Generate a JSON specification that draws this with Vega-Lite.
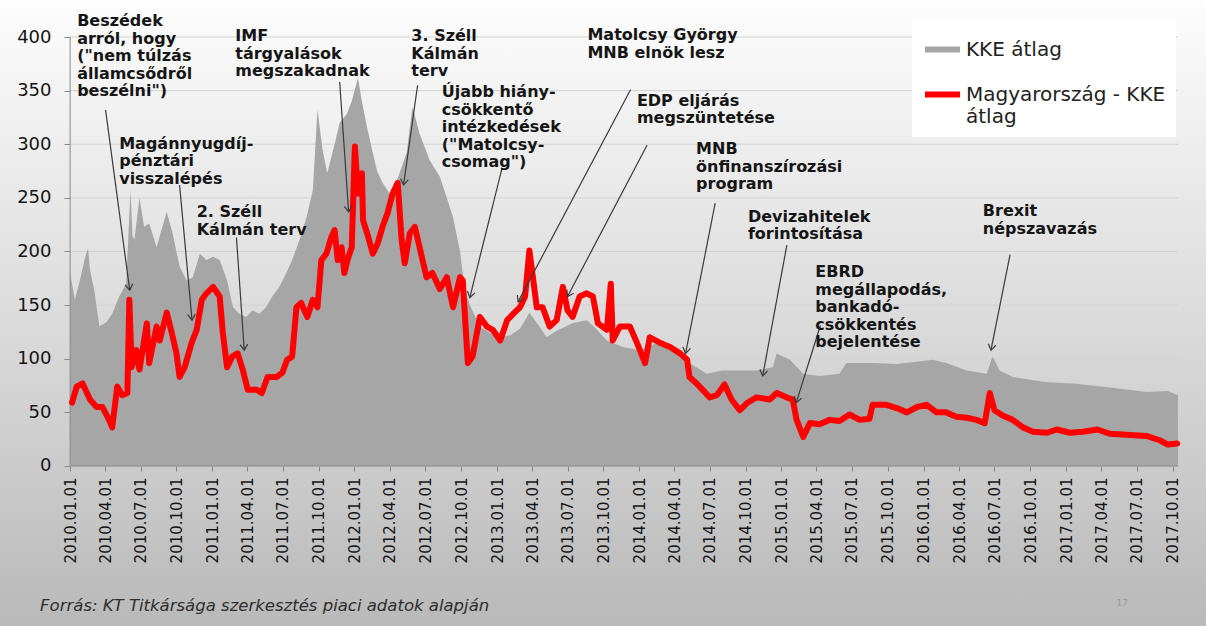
{
  "$schema": "https://vega.github.io/schema/vega-lite/v6.json",
  "width": 1206,
  "height": 626,
  "autosize": {"type": "none"},
  "padding": 0,
  "background": "#bdbdbd",
  "view": {"stroke": null, "fill": {"gradient": "linear", "x1": 0, "y1": 0, "x2": 0, "y2": 1, "stops": [{"offset": 0, "color": "#fdfdfd"}, {"offset": 0.75, "color": "#cbcbcb"}, {"offset": 1, "color": "#b9b9b9"}]}},
  "config": {
    "font": "DejaVu Sans",
    "axis": {"labelFont": "DejaVu Sans", "labelColor": "#151515", "tickColor": "#8a8a8a", "domain": false, "grid": false, "title": null},
    "axisX": {"labelOverlap": false, "labelAngle": -90, "labelFlush": false, "labelBound": false, "format": "%Y.%m.%d"}
  },
  "datasets": {
    "kke": [
      {"date": "2010-01-01", "value": 180}, {"date": "2010-01-13", "value": 155}, {"date": "2010-01-26", "value": 173},
      {"date": "2010-02-09", "value": 195}, {"date": "2010-02-16", "value": 203}, {"date": "2010-02-21", "value": 183},
      {"date": "2010-03-04", "value": 164}, {"date": "2010-03-17", "value": 130}, {"date": "2010-04-04", "value": 134},
      {"date": "2010-04-19", "value": 142}, {"date": "2010-05-07", "value": 158}, {"date": "2010-05-25", "value": 170},
      {"date": "2010-06-05", "value": 258}, {"date": "2010-06-10", "value": 215}, {"date": "2010-06-15", "value": 211},
      {"date": "2010-06-28", "value": 250}, {"date": "2010-07-10", "value": 223}, {"date": "2010-07-23", "value": 226},
      {"date": "2010-08-11", "value": 204}, {"date": "2010-09-06", "value": 237}, {"date": "2010-09-21", "value": 217},
      {"date": "2010-10-09", "value": 186}, {"date": "2010-10-27", "value": 173}, {"date": "2010-11-12", "value": 176},
      {"date": "2010-11-30", "value": 198}, {"date": "2010-12-17", "value": 192}, {"date": "2011-01-03", "value": 195},
      {"date": "2011-01-20", "value": 192}, {"date": "2011-02-08", "value": 173}, {"date": "2011-02-23", "value": 148},
      {"date": "2011-03-11", "value": 142}, {"date": "2011-03-29", "value": 139}, {"date": "2011-04-14", "value": 145},
      {"date": "2011-05-02", "value": 142}, {"date": "2011-05-19", "value": 148}, {"date": "2011-06-04", "value": 158},
      {"date": "2011-06-22", "value": 167}, {"date": "2011-07-10", "value": 180}, {"date": "2011-07-25", "value": 192},
      {"date": "2011-08-13", "value": 211}, {"date": "2011-08-31", "value": 232}, {"date": "2011-09-16", "value": 257},
      {"date": "2011-09-28", "value": 332}, {"date": "2011-10-11", "value": 295}, {"date": "2011-10-23", "value": 273},
      {"date": "2011-11-11", "value": 300}, {"date": "2011-11-24", "value": 320}, {"date": "2011-12-12", "value": 328},
      {"date": "2011-12-25", "value": 340}, {"date": "2012-01-10", "value": 362}, {"date": "2012-01-20", "value": 340},
      {"date": "2012-02-02", "value": 316}, {"date": "2012-02-15", "value": 295}, {"date": "2012-02-28", "value": 275},
      {"date": "2012-03-13", "value": 264}, {"date": "2012-03-31", "value": 254}, {"date": "2012-04-18", "value": 265},
      {"date": "2012-05-14", "value": 292}, {"date": "2012-05-29", "value": 335}, {"date": "2012-06-16", "value": 310},
      {"date": "2012-07-12", "value": 285}, {"date": "2012-08-07", "value": 270}, {"date": "2012-08-25", "value": 250},
      {"date": "2012-09-10", "value": 232}, {"date": "2012-09-28", "value": 200}, {"date": "2012-10-10", "value": 165},
      {"date": "2012-10-23", "value": 150}, {"date": "2012-11-18", "value": 130}, {"date": "2012-12-14", "value": 124},
      {"date": "2013-01-09", "value": 120}, {"date": "2013-02-04", "value": 122}, {"date": "2013-03-01", "value": 128},
      {"date": "2013-03-25", "value": 143}, {"date": "2013-04-20", "value": 130}, {"date": "2013-05-08", "value": 120},
      {"date": "2013-06-03", "value": 126}, {"date": "2013-07-14", "value": 133}, {"date": "2013-08-19", "value": 136},
      {"date": "2013-09-04", "value": 131}, {"date": "2013-10-10", "value": 117}, {"date": "2013-11-20", "value": 111},
      {"date": "2014-01-03", "value": 108}, {"date": "2014-02-16", "value": 115}, {"date": "2014-03-27", "value": 108},
      {"date": "2014-05-10", "value": 96}, {"date": "2014-06-23", "value": 86}, {"date": "2014-08-03", "value": 89},
      {"date": "2014-09-16", "value": 89}, {"date": "2014-10-29", "value": 89}, {"date": "2014-12-10", "value": 92},
      {"date": "2014-12-20", "value": 105}, {"date": "2015-01-05", "value": 102}, {"date": "2015-01-23", "value": 99},
      {"date": "2015-02-26", "value": 86}, {"date": "2015-04-09", "value": 84}, {"date": "2015-05-30", "value": 86},
      {"date": "2015-06-17", "value": 96}, {"date": "2015-08-23", "value": 96}, {"date": "2015-10-24", "value": 95},
      {"date": "2016-01-25", "value": 99}, {"date": "2016-02-28", "value": 96}, {"date": "2016-04-21", "value": 89},
      {"date": "2016-06-11", "value": 86}, {"date": "2016-06-26", "value": 102}, {"date": "2016-07-14", "value": 89},
      {"date": "2016-08-17", "value": 83}, {"date": "2016-11-13", "value": 78}, {"date": "2017-01-19", "value": 77},
      {"date": "2017-04-30", "value": 73}, {"date": "2017-07-26", "value": 69}, {"date": "2017-09-19", "value": 70},
      {"date": "2017-10-15", "value": 66}
    ],
    "hu": [
      {"date": "2010-01-06", "value": 59}, {"date": "2010-01-18", "value": 74}, {"date": "2010-02-02", "value": 77},
      {"date": "2010-02-21", "value": 62}, {"date": "2010-03-10", "value": 55}, {"date": "2010-03-25", "value": 55},
      {"date": "2010-04-11", "value": 43}, {"date": "2010-04-19", "value": 36}, {"date": "2010-05-02", "value": 74},
      {"date": "2010-05-15", "value": 66}, {"date": "2010-05-28", "value": 68}, {"date": "2010-06-02", "value": 155},
      {"date": "2010-06-08", "value": 92}, {"date": "2010-06-20", "value": 108}, {"date": "2010-06-28", "value": 90},
      {"date": "2010-07-17", "value": 133}, {"date": "2010-07-23", "value": 96}, {"date": "2010-08-11", "value": 130},
      {"date": "2010-08-19", "value": 117}, {"date": "2010-09-06", "value": 143}, {"date": "2010-09-19", "value": 124},
      {"date": "2010-10-01", "value": 105}, {"date": "2010-10-09", "value": 83}, {"date": "2010-10-22", "value": 92},
      {"date": "2010-11-09", "value": 115}, {"date": "2010-11-22", "value": 127}, {"date": "2010-12-05", "value": 155},
      {"date": "2010-12-17", "value": 161}, {"date": "2011-01-03", "value": 167}, {"date": "2011-01-20", "value": 158},
      {"date": "2011-01-28", "value": 124}, {"date": "2011-02-08", "value": 92}, {"date": "2011-02-21", "value": 102},
      {"date": "2011-03-07", "value": 105}, {"date": "2011-03-20", "value": 90}, {"date": "2011-04-02", "value": 71},
      {"date": "2011-04-25", "value": 71}, {"date": "2011-05-08", "value": 68}, {"date": "2011-05-23", "value": 83},
      {"date": "2011-06-15", "value": 83}, {"date": "2011-06-30", "value": 87}, {"date": "2011-07-12", "value": 99},
      {"date": "2011-07-25", "value": 102}, {"date": "2011-08-05", "value": 148}, {"date": "2011-08-17", "value": 152},
      {"date": "2011-09-02", "value": 139}, {"date": "2011-09-16", "value": 155}, {"date": "2011-09-28", "value": 148},
      {"date": "2011-10-08", "value": 192}, {"date": "2011-10-21", "value": 198}, {"date": "2011-11-03", "value": 214},
      {"date": "2011-11-11", "value": 220}, {"date": "2011-11-19", "value": 192}, {"date": "2011-11-29", "value": 204},
      {"date": "2011-12-06", "value": 180}, {"date": "2011-12-14", "value": 192}, {"date": "2011-12-25", "value": 204},
      {"date": "2012-01-02", "value": 298}, {"date": "2012-01-10", "value": 254}, {"date": "2012-01-20", "value": 273},
      {"date": "2012-01-23", "value": 229}, {"date": "2012-02-05", "value": 214}, {"date": "2012-02-17", "value": 198},
      {"date": "2012-03-01", "value": 208}, {"date": "2012-03-13", "value": 223}, {"date": "2012-03-26", "value": 236},
      {"date": "2012-04-08", "value": 254}, {"date": "2012-04-21", "value": 264}, {"date": "2012-05-01", "value": 211},
      {"date": "2012-05-09", "value": 189}, {"date": "2012-05-22", "value": 217}, {"date": "2012-06-04", "value": 223},
      {"date": "2012-06-16", "value": 204}, {"date": "2012-07-04", "value": 176}, {"date": "2012-07-19", "value": 180},
      {"date": "2012-08-07", "value": 165}, {"date": "2012-08-25", "value": 176}, {"date": "2012-09-10", "value": 148},
      {"date": "2012-09-28", "value": 176}, {"date": "2012-10-05", "value": 173}, {"date": "2012-10-18", "value": 96},
      {"date": "2012-10-30", "value": 102}, {"date": "2012-11-18", "value": 139}, {"date": "2012-12-06", "value": 130},
      {"date": "2012-12-21", "value": 127}, {"date": "2013-01-09", "value": 117}, {"date": "2013-01-27", "value": 136},
      {"date": "2013-02-12", "value": 142}, {"date": "2013-03-01", "value": 148}, {"date": "2013-03-14", "value": 158},
      {"date": "2013-03-25", "value": 201}, {"date": "2013-04-03", "value": 176}, {"date": "2013-04-13", "value": 148},
      {"date": "2013-04-28", "value": 148}, {"date": "2013-05-16", "value": 130}, {"date": "2013-06-03", "value": 136},
      {"date": "2013-06-19", "value": 167}, {"date": "2013-07-01", "value": 145}, {"date": "2013-07-14", "value": 139},
      {"date": "2013-08-01", "value": 158}, {"date": "2013-08-19", "value": 161}, {"date": "2013-09-04", "value": 158},
      {"date": "2013-09-17", "value": 133}, {"date": "2013-10-10", "value": 127}, {"date": "2013-10-20", "value": 170},
      {"date": "2013-10-25", "value": 117}, {"date": "2013-11-12", "value": 130}, {"date": "2013-12-08", "value": 130},
      {"date": "2013-12-26", "value": 115}, {"date": "2014-01-16", "value": 96}, {"date": "2014-01-28", "value": 120},
      {"date": "2014-02-23", "value": 115}, {"date": "2014-03-21", "value": 111}, {"date": "2014-04-16", "value": 105},
      {"date": "2014-05-04", "value": 99}, {"date": "2014-05-10", "value": 83}, {"date": "2014-05-28", "value": 77},
      {"date": "2014-06-13", "value": 71}, {"date": "2014-07-01", "value": 64}, {"date": "2014-07-19", "value": 66},
      {"date": "2014-08-08", "value": 76}, {"date": "2014-08-26", "value": 62}, {"date": "2014-09-16", "value": 52},
      {"date": "2014-10-06", "value": 59}, {"date": "2014-10-29", "value": 64}, {"date": "2014-12-02", "value": 62},
      {"date": "2014-12-20", "value": 68}, {"date": "2015-01-14", "value": 64}, {"date": "2015-01-30", "value": 62},
      {"date": "2015-02-09", "value": 43}, {"date": "2015-02-26", "value": 27}, {"date": "2015-03-15", "value": 40},
      {"date": "2015-04-09", "value": 39}, {"date": "2015-05-05", "value": 43}, {"date": "2015-05-30", "value": 42},
      {"date": "2015-06-25", "value": 48}, {"date": "2015-07-21", "value": 43}, {"date": "2015-08-15", "value": 44},
      {"date": "2015-08-23", "value": 57}, {"date": "2015-09-28", "value": 57}, {"date": "2015-10-24", "value": 54},
      {"date": "2015-11-19", "value": 50}, {"date": "2015-12-15", "value": 55}, {"date": "2016-01-09", "value": 57},
      {"date": "2016-02-03", "value": 50}, {"date": "2016-02-28", "value": 50}, {"date": "2016-03-25", "value": 46},
      {"date": "2016-04-21", "value": 45}, {"date": "2016-05-16", "value": 43}, {"date": "2016-06-06", "value": 40},
      {"date": "2016-06-19", "value": 68}, {"date": "2016-07-01", "value": 52}, {"date": "2016-07-22", "value": 47},
      {"date": "2016-08-17", "value": 43}, {"date": "2016-09-12", "value": 36}, {"date": "2016-10-08", "value": 32},
      {"date": "2016-11-13", "value": 31}, {"date": "2016-12-08", "value": 34}, {"date": "2017-01-11", "value": 31},
      {"date": "2017-02-13", "value": 32}, {"date": "2017-03-22", "value": 34}, {"date": "2017-04-24", "value": 30},
      {"date": "2017-06-15", "value": 29}, {"date": "2017-07-26", "value": 28}, {"date": "2017-08-29", "value": 24},
      {"date": "2017-09-19", "value": 20}, {"date": "2017-10-13", "value": 21}
    ],
    "labels": [
      {"date": "2010-01-19", "value": 422, "text": "Beszédek\narról, hogy\n(\"nem túlzás\nállamcsődről\nbeszélni\")"},
      {"date": "2010-05-07", "value": 308, "text": "Magánnyugdíj-\npénztári\nvisszalépés"},
      {"date": "2010-11-22", "value": 244, "text": "2. Széll\nKálmán terv"},
      {"date": "2011-03-01", "value": 408, "text": "IMF\ntárgyalások\nmegszakadnak"},
      {"date": "2012-05-26", "value": 408, "text": "3. Széll\nKálmán\nterv"},
      {"date": "2012-08-12", "value": 356, "text": "Újabb hiány-\ncsökkentő\nintézkedések\n(\"Matolcsy-\ncsomag\")"},
      {"date": "2013-08-21", "value": 409, "text": "Matolcsy György\nMNB elnök lesz"},
      {"date": "2013-12-26", "value": 348, "text": "EDP eljárás\nmegszüntetése"},
      {"date": "2014-05-27", "value": 303, "text": "MNB\nönfinanszírozási\nprogram"},
      {"date": "2014-10-07", "value": 240, "text": "Devizahitelek\nforintosítása"},
      {"date": "2015-03-29", "value": 188, "text": "EBRD\nmegállapodás,\nbankadó-\ncsökkentés\nbejelentése"},
      {"date": "2016-06-01", "value": 245, "text": "Brexit\nnépszavazás"}
    ],
    "arrows": [
      {"start": "2010-04-02", "vstart": 332, "end": "2010-06-03", "vend": 164},
      {"start": "2010-10-09", "vstart": 262, "end": "2010-11-10", "vend": 136},
      {"start": "2011-03-04", "vstart": 213, "end": "2011-03-24", "vend": 108},
      {"start": "2011-11-24", "vstart": 358, "end": "2011-12-17", "vend": 237},
      {"start": "2012-06-11", "vstart": 355, "end": "2012-05-06", "vend": 262},
      {"start": "2013-01-14", "vstart": 278, "end": "2012-10-23", "vend": 157},
      {"start": "2013-12-10", "vstart": 351, "end": "2013-02-24", "vend": 153},
      {"start": "2014-01-21", "vstart": 299, "end": "2013-07-01", "vend": 158},
      {"start": "2014-07-15", "vstart": 245, "end": "2014-04-30", "vend": 105},
      {"start": "2015-01-15", "vstart": 206, "end": "2014-11-14", "vend": 84},
      {"start": "2015-04-11", "vstart": 131, "end": "2015-02-08", "vend": 59},
      {"start": "2016-08-10", "vstart": 197, "end": "2016-06-22", "vend": 108}
    ],
    "grid": [{"v": 50}, {"v": 100}, {"v": 150}, {"v": 200}, {"v": 250}, {"v": 300}, {"v": 350}, {"v": 400}],
    "notes": [
      {"date": "2009-10-16", "value": -130.5, "text": "Forrás: KT Titkársága szerkesztés  piaci adatok alapján", "kind": "source"},
      {"date": "2017-05-10", "value": -127.5, "text": "17", "kind": "page"}
    ]
  },
  "layer": [
    {
      "data": {"name": "grid"},
      "mark": {"type": "rule", "color": "#d2d2d2", "strokeWidth": 1},
      "encoding": {
        "y": {
          "field": "v", "type": "quantitative", "title": null,
          "scale": {"domain": [-149.2, 434.5], "nice": false, "zero": false},
          "axis": {"orient": "left", "offset": -70, "title": null, "values": [0, 50, 100, 150, 200, 250, 300, 350, 400], "tickCount": 20, "labelFontSize": 18, "labelPadding": 13, "tickSize": 6}
        },
        "x": {
          "datum": {"year": 2010, "month": 1, "date": 1}, "type": "temporal", "title": null,
          "scale": {"domain": [{"year": 2009, "month": 7, "date": 5}, {"year": 2017, "month": 12, "date": 26}], "nice": false},
          "axis": {
            "orient": "bottom", "offset": -160, "title": null, "format": "%Y.%m.%d", "labelAngle": -90, "tickCount": 60,
            "labelFontSize": 15, "labelPadding": 6, "tickSize": 5, "labelOverlap": false, "labelFlush": false, "labelBound": false,
            "values": [
              {"year": 2010, "month": 1, "date": 1}, {"year": 2010, "month": 4, "date": 1}, {"year": 2010, "month": 7, "date": 1}, {"year": 2010, "month": 10, "date": 1},
              {"year": 2011, "month": 1, "date": 1}, {"year": 2011, "month": 4, "date": 1}, {"year": 2011, "month": 7, "date": 1}, {"year": 2011, "month": 10, "date": 1},
              {"year": 2012, "month": 1, "date": 1}, {"year": 2012, "month": 4, "date": 1}, {"year": 2012, "month": 7, "date": 1}, {"year": 2012, "month": 10, "date": 1},
              {"year": 2013, "month": 1, "date": 1}, {"year": 2013, "month": 4, "date": 1}, {"year": 2013, "month": 7, "date": 1}, {"year": 2013, "month": 10, "date": 1},
              {"year": 2014, "month": 1, "date": 1}, {"year": 2014, "month": 4, "date": 1}, {"year": 2014, "month": 7, "date": 1}, {"year": 2014, "month": 10, "date": 1},
              {"year": 2015, "month": 1, "date": 1}, {"year": 2015, "month": 4, "date": 1}, {"year": 2015, "month": 7, "date": 1}, {"year": 2015, "month": 10, "date": 1},
              {"year": 2016, "month": 1, "date": 1}, {"year": 2016, "month": 4, "date": 1}, {"year": 2016, "month": 7, "date": 1}, {"year": 2016, "month": 10, "date": 1},
              {"year": 2017, "month": 1, "date": 1}, {"year": 2017, "month": 4, "date": 1}, {"year": 2017, "month": 7, "date": 1}, {"year": 2017, "month": 10, "date": 1}
            ]
          }
        },
        "x2": {"datum": {"year": 2017, "month": 10, "date": 15}}
      }
    },
    {
      "data": {"name": "kke"},
      "mark": {"type": "area", "color": "#a6a6a6", "interpolate": "linear"},
      "encoding": {
        "x": {"field": "date", "type": "temporal", "title": null},
        "y": {"field": "value", "type": "quantitative", "title": null},
        "y2": {"datum": 0},
        "color": {
          "datum": "KKE átlag", "type": "nominal",
          "scale": {"domain": ["KKE átlag", "Magyarország - KKE átlag"], "range": ["#a6a6a6", "#ff0000"]},
          "legend": {
            "orient": "none", "legendX": 912, "legendY": 19, "title": null, "direction": "vertical",
            "symbolType": "stroke", "symbolStrokeWidth": 6, "symbolSize": 1225,
            "labelFont": "DejaVu Sans", "labelFontSize": 20, "labelColor": "#222222", "labelLimit": 400, "labelOffset": 3,
            "fillColor": "#ffffff", "padding": 10, "rowPadding": 12,
            "labelExpr": "datum.label == 'Magyarország - KKE átlag' ? ['Magyarország - KKE', 'átlag'] : datum.label",
            "encode": {"symbols": {"update": {"stroke": {"scale": "color", "field": "value"}, "strokeWidth": {"value": 6}}}}
          }
        }
      }
    },
    {
      "data": {"values": [{"a": 1}]},
      "mark": {"type": "rule", "color": "#8a8a8a", "strokeWidth": 1},
      "encoding": {
        "x": {"datum": {"year": 2010, "month": 1, "date": 1}, "type": "temporal"},
        "y": {"datum": 0},
        "y2": {"datum": 400}
      }
    },
    {
      "data": {"values": [{"a": 1}]},
      "mark": {"type": "rule", "color": "#8a8a8a", "strokeWidth": 1},
      "encoding": {
        "x": {"datum": {"year": 2010, "month": 1, "date": 1}, "type": "temporal"},
        "x2": {"datum": {"year": 2017, "month": 10, "date": 15}},
        "y": {"datum": 0}
      }
    },
    {
      "data": {"name": "hu"},
      "mark": {"type": "line", "strokeWidth": 6, "strokeJoin": "round", "strokeCap": "round", "interpolate": "linear"},
      "encoding": {
        "x": {"field": "date", "type": "temporal", "title": null},
        "y": {"field": "value", "type": "quantitative", "title": null},
        "color": {"datum": "Magyarország - KKE átlag", "type": "nominal"}
      }
    },
    {
      "data": {"name": "arrows"},
      "mark": {"type": "rule", "color": "#3a3a3a", "strokeWidth": 1.2},
      "encoding": {
        "x": {"field": "start", "type": "temporal", "title": null},
        "x2": {"field": "end"},
        "y": {"field": "vstart", "type": "quantitative", "title": null},
        "y2": {"field": "vend"}
      }
    },
    {
      "data": {"name": "arrows"},
      "transform": [
        {"calculate": "atan2(-(time(datum.end) - time(datum.start)) / 86400000 * 0.3896, (datum.vstart - datum.vend) * 1.0725) * 180 / PI", "as": "ang"}
      ],
      "mark": {"type": "point", "shape": "M -1 -1.5 L 0 0 L 1 -1.5", "filled": false, "size": 60, "stroke": "#3a3a3a", "strokeWidth": 1.2, "opacity": 1},
      "encoding": {
        "x": {"field": "end", "type": "temporal", "title": null},
        "y": {"field": "vend", "type": "quantitative", "title": null},
        "angle": {"field": "ang", "type": "quantitative", "scale": null}
      }
    },
    {
      "data": {"name": "labels"},
      "mark": {"type": "text", "align": "left", "baseline": "top", "font": "DejaVu Sans", "fontWeight": "bold", "fontSize": 16, "lineHeight": 17.5, "lineBreak": "\n", "color": "#151515"},
      "encoding": {
        "x": {"field": "date", "type": "temporal", "title": null},
        "y": {"field": "value", "type": "quantitative", "title": null},
        "text": {"field": "text", "type": "nominal"}
      }
    },
    {
      "data": {"name": "notes"},
      "transform": [{"filter": "datum.kind == 'source'"}],
      "mark": {"type": "text", "align": "left", "baseline": "middle", "font": "DejaVu Sans", "fontStyle": "italic", "fontSize": 16.5, "color": "#2e2e2e"},
      "encoding": {
        "x": {"field": "date", "type": "temporal", "title": null},
        "y": {"field": "value", "type": "quantitative", "title": null},
        "text": {"field": "text", "type": "nominal"}
      }
    },
    {
      "data": {"name": "notes"},
      "transform": [{"filter": "datum.kind == 'page'"}],
      "mark": {"type": "text", "align": "left", "baseline": "middle", "font": "DejaVu Sans", "fontSize": 9, "color": "#9a9a9a"},
      "encoding": {
        "x": {"field": "date", "type": "temporal", "title": null},
        "y": {"field": "value", "type": "quantitative", "title": null},
        "text": {"field": "text", "type": "nominal"}
      }
    }
  ]
}
